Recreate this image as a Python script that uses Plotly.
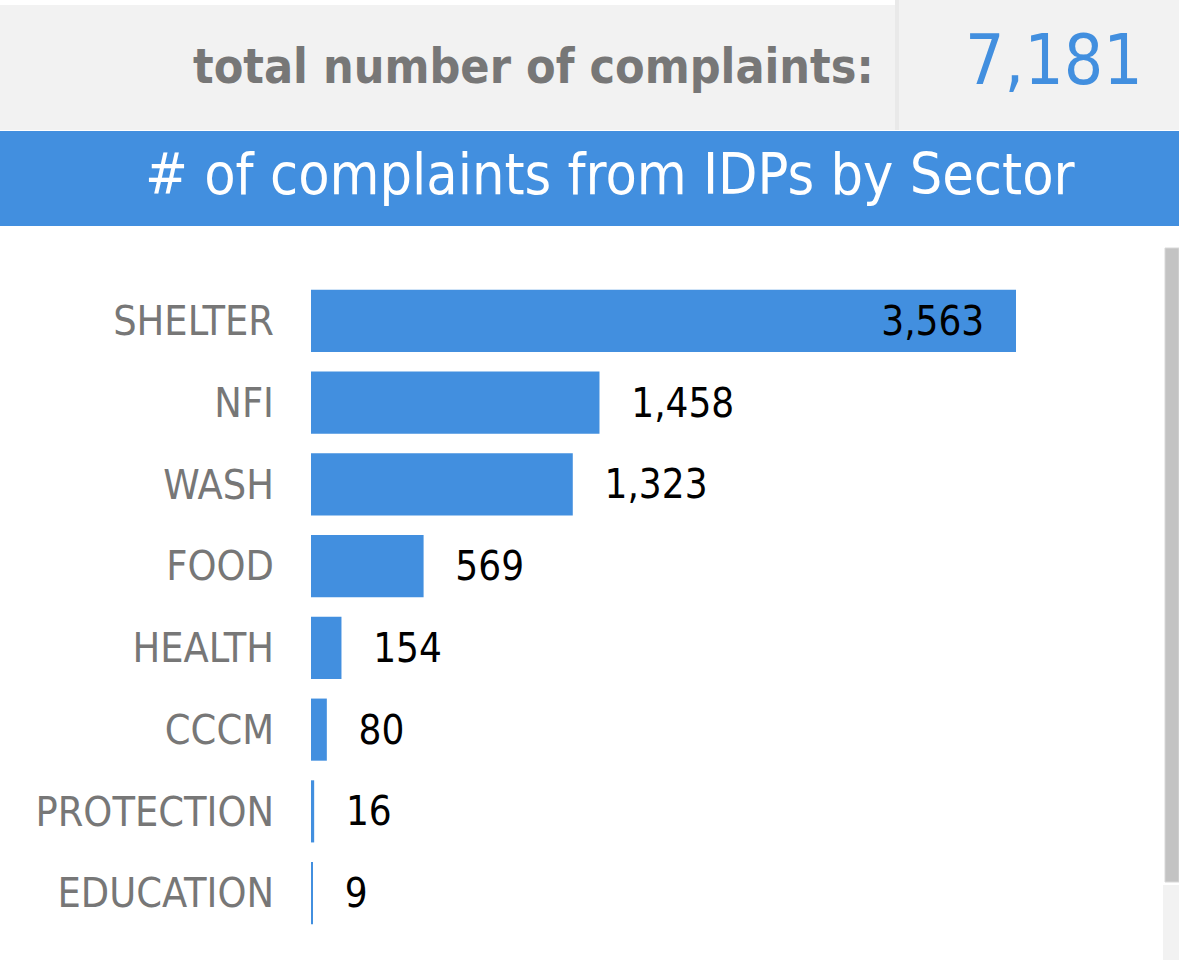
import plotly.graph_objects as go

# ── Data ─────────────────────────────────────────────
sectors = ["SHELTER", "NFI", "WASH", "FOOD", "HEALTH", "CCCM", "PROTECTION", "EDUCATION"]
complaints = [3563, 1458, 1323, 569, 154, 80, 16, 9]
total_complaints = 7181

TITLE = "# of complaints from IDPs by Sector"
TOTAL_LABEL = "total number of complaints:"

BLUE = "#428fdf"
GREY_TEXT = "#777777"
FONT = "DejaVu Sans Condensed, DejaVu Sans, sans-serif"

W, H = 1179, 965
# plot area in pixels
L, R, T, B = 311, 1150, 280, 934


def px_x(px):
    return (px - L) / (R - L)


def px_y(py):
    return (B - py) / (B - T)


# SHELTER label sits inside the bar, the rest outside
PAD = "\u2002\u2009\u200a"
positions = ["inside" if i == 0 else "outside" for i in range(len(complaints))]
templates = ["%{x:,}" + PAD if i == 0 else PAD + "%{x:,}" for i in range(len(complaints))]

fig = go.Figure(go.Bar(
    x=complaints, y=sectors, orientation="h",
    marker=dict(color=BLUE, line_width=0),
    texttemplate=templates,
    textposition=positions,
    insidetextanchor="end",
    textfont=dict(family=FONT, size=40, color="black"),
    insidetextfont=dict(family=FONT, size=40, color="black"),
    outsidetextfont=dict(family=FONT, size=40, color="black"),
    constraintext="none",
    cliponaxis=False,
    hoverinfo="skip",
))

shapes = [
    # top grey band
    dict(type="rect", xref="paper", yref="paper", x0=px_x(0), x1=px_x(896),
         y0=px_y(130), y1=px_y(5), fillcolor="#f2f2f2", line_width=0, layer="below"),
    dict(type="rect", xref="paper", yref="paper", x0=px_x(899), x1=px_x(W),
         y0=px_y(130), y1=px_y(0), fillcolor="#f2f2f2", line_width=0, layer="below"),
    dict(type="rect", xref="paper", yref="paper", x0=px_x(895), x1=px_x(899),
         y0=px_y(130), y1=px_y(0), fillcolor="#e9e9e9", line_width=0, layer="below"),
    # blue title band
    dict(type="rect", xref="paper", yref="paper", x0=px_x(0), x1=px_x(W),
         y0=px_y(226), y1=px_y(131), fillcolor=BLUE, line_width=0, layer="below"),
    # scrollbar
    dict(type="rect", xref="paper", yref="paper", x0=px_x(1165), x1=px_x(W),
         y0=px_y(882), y1=px_y(248), fillcolor="#c3c3c3",
         line=dict(color="#d8d8d8", width=1), layer="below"),
    dict(type="rect", xref="paper", yref="paper", x0=px_x(1163), x1=px_x(W),
         y0=px_y(960), y1=px_y(885), fillcolor="#f2f2f2", line_width=0, layer="below"),
]

annotations = [
    dict(text=f"<b>{TOTAL_LABEL}</b>", xref="paper", yref="paper",
         x=px_x(876), y=px_y(66), xanchor="right", yanchor="middle", showarrow=False,
         font=dict(family=FONT, size=48, color=GREY_TEXT)),
    dict(text=f"{total_complaints:,}", xref="paper", yref="paper",
         x=px_x(1054), y=px_y(60), xanchor="center", yanchor="middle", showarrow=False,
         font=dict(family=FONT, size=69, color=BLUE)),
    dict(text=TITLE, xref="paper", yref="paper",
         x=px_x(610), y=px_y(174), xanchor="center", yanchor="middle", showarrow=False,
         font=dict(family=FONT, size=57, color="white")),
]

fig.update_layout(
    width=W, height=H,
    margin=dict(l=L, r=W - R, t=T, b=H - B, pad=0),
    paper_bgcolor="white", plot_bgcolor="white",
    bargap=0.24,
    showlegend=False,
    shapes=shapes,
    annotations=annotations,
    font=dict(family=FONT),
)
fig.update_xaxes(range=[0, 3563 * (R - L) / 705], visible=False, fixedrange=True)
fig.update_yaxes(
    autorange="reversed", showgrid=False, showline=False, zeroline=False, ticks="",
    ticklabelstandoff=36,
    tickfont=dict(family=FONT, size=41, color=GREY_TEXT),
    fixedrange=True,
)

fig.write_html(
    "out.html",
    config={"displayModeBar": False},
    post_script="document.body.style.margin='0';document.body.style.overflow='hidden';",
)
